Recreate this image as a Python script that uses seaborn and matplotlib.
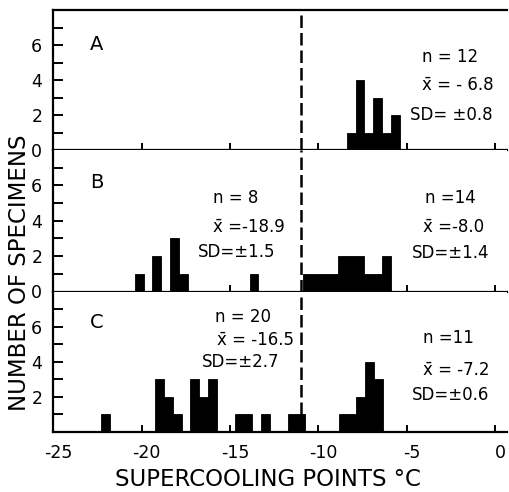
import matplotlib
matplotlib.use("Agg")
import matplotlib.pyplot as plt
import matplotlib.transforms as mtransforms
import seaborn as sns

# histogram bin width, deg C
BIN_WIDTH = 0.5

# panel A - left edges of the bins and number of specimens
a_left = [-8.4, -7.9, -7.4, -6.9, -6.4, -5.9]
a_counts = [1, 4, 1, 3, 1, 2]

# panel B - two groups
b1_left = [-20.4, -19.4, -18.4, -17.9, -13.9]
b1_counts = [1, 2, 3, 1, 1]
b2_left = [-10.9, -10.4, -9.9, -9.4, -8.9, -8.4, -7.9, -7.4, -6.9, -6.4]
b2_counts = [1, 1, 1, 1, 2, 2, 2, 1, 1, 2]

# panel C - two groups
c1_left = [-22.3, -19.25, -18.75, -18.25, -17.25, -16.75, -16.25,
           -14.75, -14.25, -13.25, -11.75, -11.25]
c1_counts = [1, 3, 2, 1, 3, 2, 3, 1, 1, 1, 1, 1]
c2_left = [-8.85, -8.35, -7.85, -7.35, -6.85]
c2_counts = [1, 1, 2, 4, 3]

# group statistics printed on the panels
a_stats = ["n = 12", "x\u0304 = - 6.8", "SD= \u00b10.8"]
b1_stats = ["n = 8", "x\u0304 =-18.9", "SD=\u00b11.5"]
b2_stats = ["n =14", "x\u0304 =-8.0", "SD=\u00b11.4"]
c1_stats = ["n = 20", "x\u0304 = -16.5", "SD=\u00b12.7"]
c2_stats = ["n =11", "x\u0304 = -7.2", "SD=\u00b10.6"]

panel_names = ["A", "B", "C"]
split_temp = -10.97
x_ticks = [-25, -20, -15, -10, -5, 0]
y_ticks = [0, 1, 2, 3, 4, 5, 6, 7]

sns.set_style("ticks")
plt.rcParams["font.family"] = ["DejaVu Sans"]
plt.rcParams.update({
    "text.color": "black",
    "axes.edgecolor": "black",
    "axes.labelcolor": "black",
    "xtick.color": "black",
    "ytick.color": "black",
})

W, H = 510, 492
fig = plt.figure(figsize=(W / 100, H / 100), dpi=100)


def px(x, y):
    # pixel position (top-left origin) -> figure fraction
    return x / W, 1 - y / H


def draw_bars(ax, left, counts):
    ax.bar(left, counts, width=BIN_WIDTH, align="edge",
           color="black", edgecolor="black", linewidth=0.6)


def put_stats(lines, spots, size=12):
    for txt, (x, y) in zip(lines, spots):
        fig.text(*px(x, y), txt, ha="left", va="center", fontsize=size)


x_left, x_right = 53.4, 507.5
rows = [(10, 150), (150, 291.5), (291.5, 432)]
axes = []
for top, bot in rows:
    ax = fig.add_axes([x_left / W, 1 - bot / H,
                       (x_right - x_left) / W, (bot - top) / H])
    ax.set_xlim(-25, 0.7)
    ax.set_ylim(0, 8)
    axes.append(ax)

draw_bars(axes[0], a_left, a_counts)
draw_bars(axes[1], b1_left, b1_counts)
draw_bars(axes[1], b2_left, b2_counts)
draw_bars(axes[2], c1_left, c1_counts)
draw_bars(axes[2], c2_left, c2_counts)

for i, ax in enumerate(axes):
    ax.spines["right"].set_visible(False)
    ax.spines["top"].set_visible(i == 0)
    for s in ["left", "bottom", "top"]:
        ax.spines[s].set_linewidth(1.6)
    ax.set_yticks(y_ticks)
    labels = [str(v) if v % 2 == 0 else "" for v in y_ticks]
    if i == 2:
        labels[0] = ""
    ax.set_yticklabels(labels)
    ax.tick_params(axis="y", direction="in", length=7, width=1.4,
                   labelsize=12.5, pad=8)
    ax.axvline(split_temp, color="black", lw=1.8, dashes=(5, 2))
    if i < 2:
        ax.set_xticks(x_ticks[1:])
        ax.set_xticklabels([])
        ax.tick_params(axis="x", direction="inout", length=10, width=1.4)
    else:
        ax.set_xticks(x_ticks)
        ax.set_xticklabels([str(v) for v in x_ticks])
        ax.tick_params(axis="x", direction="in", length=5, width=1.4,
                       labelsize=12.5, pad=9)
        shift = mtransforms.ScaledTranslation(0.05, 0, fig.dpi_scale_trans)
        for lab in ax.get_xticklabels():
            lab.set_transform(lab.get_transform() + shift)

# panel letters
for name, (x, y) in zip(panel_names, [(97, 45), (97, 182), (97, 322)]):
    fig.text(*px(x, y), name, ha="center", va="center", fontsize=14)

put_stats(a_stats, [(422, 57), (422, 85), (410, 115)])
put_stats(b1_stats, [(213, 198), (213, 227), (198, 252)])
put_stats(b2_stats, [(425, 198), (423, 227), (412, 253)])
put_stats(c1_stats, [(215, 317), (217, 340), (202, 362)])
put_stats(c2_stats, [(423, 338), (423, 370), (412, 395)])

fig.text(*px(268, 480), "SUPERCOOLING POINTS \u00b0C",
         ha="center", va="center", fontsize=16.5)
fig.text(*px(20, 273), "NUMBER OF SPECIMENS", rotation=90,
         ha="center", va="center", fontsize=16.5)

fig.savefig("out.png", dpi=100)
